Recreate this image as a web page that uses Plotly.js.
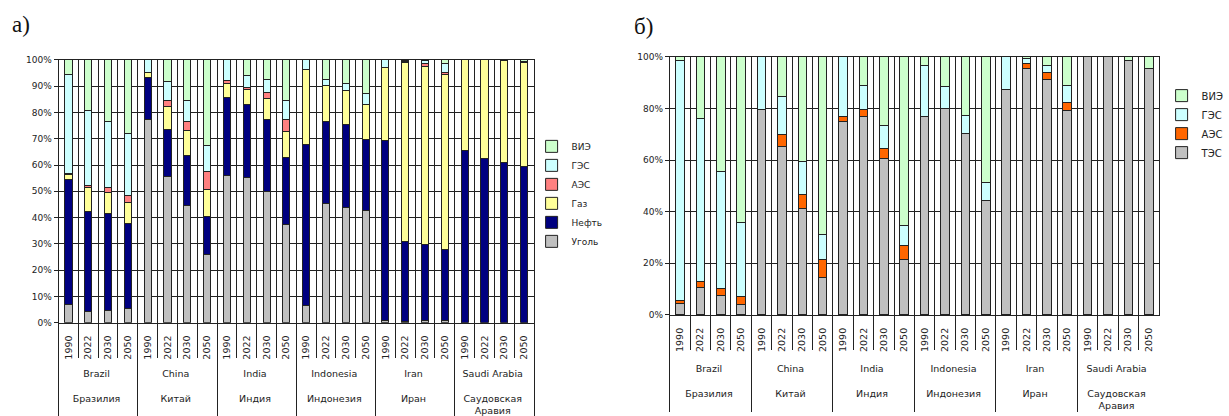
<!DOCTYPE html>
<html>
<head>
<meta charset="utf-8">
<script src="https://cdn.plot.ly/plotly-3.0.1.min.js"></script>
<style>
  html, body { margin: 0; padding: 0; background: #fff; }
  #chart { width: 1229px; height: 416px; }
</style>
</head>
<body>
<div id="chart"></div>
<script>
// Countries (English + Russian) and scenario years
const countries = [
  'Brazil<br> <br>Бразилия',
  'China<br> <br>Китай',
  'India<br> <br>Индия',
  'Indonesia<br> <br>Индонезия',
  'Iran<br> <br>Иран',
  'Saudi Arabia<br> <br>Саудовская<br>Аравия'
];
const years = ['1990', '2022', '2030', '2050'];

// а) fuel mix, % (4 years per country, in the order above)
const coal = [7.1, 4.3, 4.8, 5.3,  77.4, 55.6, 44.7, 26.1,  56.0, 55.1, 49.9, 37.4,  6.7, 45.2, 43.7, 42.6,  1.0, 0.3, 1.0, 1.0,  0, 0, 0, 0];
const oil  = [47.5, 38.1, 36.7, 32.3,  16.1, 18.1, 19.0, 14.4,  29.9, 28.1, 27.5, 25.3,  61.2, 31.3, 31.8, 27.3,  68.5, 30.7, 28.6, 26.8,  65.7, 62.4, 60.9, 59.4];
const gas  = [1.9, 8.9, 8.2, 8.1,  1.9, 8.5, 9.4, 10.1,  5.2, 5.4, 8.0, 9.9,  28.3, 13.6, 12.8, 13.2,  27.7, 67.9, 68.1, 66.6,  34.3, 37.6, 38.8, 39.7];
const nuclA = [0.4, 0.9, 1.8, 2.9,  0, 2.2, 3.5, 6.9,  1.0, 1.1, 2.3, 4.7,  0, 0, 0, 0,  0, 0.4, 0.8, 0.7,  0, 0, 0, 0];
const hydroA = [37.6, 28.6, 25.0, 23.5,  4.6, 7.4, 7.8, 9.9,  7.9, 4.5, 4.9, 7.1,  3.8, 2.4, 2.9, 4.0,  2.8, 0.5, 1.2, 3.4,  0, 0, 0.1, 0.2];
const renewA = [5.5, 19.2, 23.5, 27.9,  0, 8.2, 15.6, 32.6,  0, 5.8, 7.4, 15.6,  0, 7.5, 8.8, 12.9,  0, 0.2, 0.3, 1.5,  0, 0, 0.2, 0.7];

// б) generation by plant type, %
const thermal = [4.5, 10.5, 7.6, 4.1,  79.7, 65.3, 41.3, 14.5,  74.8, 76.9, 60.5, 21.5,  76.9, 80.1, 70.1, 44.5,  87.4, 95.5, 91.2, 79.1,  100, 100, 98.7, 95.6];
const nuclB  = [1.3, 2.4, 2.6, 3.1,  0, 4.4, 5.3, 7.0,  2.0, 2.7, 3.9, 5.3,  0, 0, 0, 0,  0, 1.7, 2.6, 3.1,  0, 0, 0, 0];
const hydroB = [92.7, 63.0, 45.4, 28.8,  20.3, 14.8, 12.9, 9.7,  23.2, 9.4, 9.0, 7.9,  19.6, 8.3, 7.1, 6.7,  12.6, 2.2, 2.7, 6.6,  0, 0, 0, 0];
const renewB = [1.5, 24.1, 44.4, 64.0,  0, 15.5, 40.5, 68.8,  0, 11.0, 26.6, 65.3,  3.5, 11.6, 22.8, 48.8,  0, 0.6, 3.5, 11.2,  0, 0, 1.3, 4.4];

// Two-level category axis: outer = country, inner = year.
// Leading no-break spaces lengthen the rotated year labels so the
// country row sits a little lower, clear of the year row.
function categories(padCount) {
  const pad = '\u00a0'.repeat(padCount);
  const outer = [], inner = [];
  countries.forEach(c => years.forEach(y => { outer.push(c); inner.push(pad + y); }));
  return [outer, inner];
}
const xCatsA = categories(2);
const xCatsB = categories(3);

const LINE = '#222';
const noZero = arr => arr.map(v => (v === 0 ? null : v));

function bars(name, vals, color, xCats, axes, legend, width) {
  return {
    type: 'bar', name: name, x: xCats, y: noZero(vals),
    xaxis: axes[0], yaxis: axes[1], legend: legend,
    width: width,
    marker: { color: color, line: { color: LINE, width: 1 } },
    hoverinfo: 'name+y'
  };
}

const A = ['x', 'y'], B = ['x2', 'y2'];
const data = [
  bars('Уголь', coal,   '#c0c0c0', xCatsA, A, 'legend', 0.36),
  bars('Нефть', oil,    '#000080', xCatsA, A, 'legend', 0.36),
  bars('Газ',   gas,    '#ffff99', xCatsA, A, 'legend', 0.36),
  bars('АЭС',   nuclA,  '#ff8080', xCatsA, A, 'legend', 0.36),
  bars('ГЭС',   hydroA, '#ccffff', xCatsA, A, 'legend', 0.36),
  bars('ВИЭ',   renewA, '#ccffcc', xCatsA, A, 'legend', 0.36),
  bars('ТЭС',   thermal,'#c0c0c0', xCatsB, B, 'legend2', 0.42),
  bars('АЭС',   nuclB,  '#ff6600', xCatsB, B, 'legend2', 0.42),
  bars('ГЭС',   hydroB, '#ccffff', xCatsB, B, 'legend2', 0.42),
  bars('ВИЭ',   renewB, '#ccffcc', xCatsB, B, 'legend2', 0.42)
];

const FONT = 'DejaVu Sans, Verdana, sans-serif';

function xAxis(domain, anchor) {
  return {
    domain: domain, anchor: anchor, type: 'multicategory',
    tickangle: -90, ticks: 'outside', ticklen: 34, tickwidth: 1, tickcolor: LINE,
    ticklabelstandoff: 8,
    showgrid: true, gridcolor: LINE, gridwidth: 1,
    showline: true, linecolor: LINE, linewidth: 1, mirror: true,
    showdividers: true, dividercolor: LINE, dividerwidth: 1,
    tickfont: { family: FONT, size: 9.5, color: '#222' },
    fixedrange: true
  };
}
function yAxis(domain, anchor, dtick) {
  return {
    domain: domain, anchor: anchor, range: [0, 100], dtick: dtick, ticksuffix: '%',
    ticks: 'outside', ticklen: 4, tickcolor: LINE,
    showgrid: true, gridcolor: LINE, gridwidth: 1, zeroline: false,
    showline: true, linecolor: LINE, linewidth: 1, mirror: true,
    tickfont: { family: FONT, size: 9, color: '#222' },
    fixedrange: true
  };
}

const layout = {
  width: 1229, height: 416,
  margin: { l: 0, r: 0, t: 0, b: 0 },
  paper_bgcolor: '#fff', plot_bgcolor: '#fff',
  barmode: 'stack', bargap: 0,
  showlegend: true,
  font: { family: FONT, size: 9, color: '#222' },
  xaxis:  xAxis([0.0488, 0.445], 'y'),
  yaxis:  yAxis([0.2243, 0.8558], 'x', 10),
  xaxis2: xAxis([0.5582, 0.9658], 'y2'),
  yaxis2: yAxis([0.2428, 0.8637], 'x2', 20),
  legend: {
    x: 0.443, y: 0.683, xanchor: 'left', yanchor: 'top',
    traceorder: 'reversed', bgcolor: 'rgba(0,0,0,0)',
    font: { family: FONT, size: 9, color: '#222' }, itemwidth: 30
  },
  legend2: {
    x: 0.968, y: 0.805, xanchor: 'left', yanchor: 'top',
    traceorder: 'reversed', bgcolor: 'rgba(0,0,0,0)',
    font: { family: FONT, size: 10, color: '#222' }, itemwidth: 30
  },
  annotations: [
    { text: 'а)', xref: 'paper', yref: 'paper', x: 0.008, y: 0.975, xanchor: 'left', yanchor: 'top',
      showarrow: false, font: { family: 'Liberation Serif, Times New Roman, serif', size: 23, color: '#111' } },
    { text: 'б)', xref: 'paper', yref: 'paper', x: 0.527, y: 0.97, xanchor: 'left', yanchor: 'top',
      showarrow: false, font: { family: 'Liberation Serif, Times New Roman, serif', size: 23, color: '#111' } }
  ]
};

Plotly.newPlot('chart', data, layout, { displayModeBar: false, staticPlot: true });
</script>
</body>
</html>
